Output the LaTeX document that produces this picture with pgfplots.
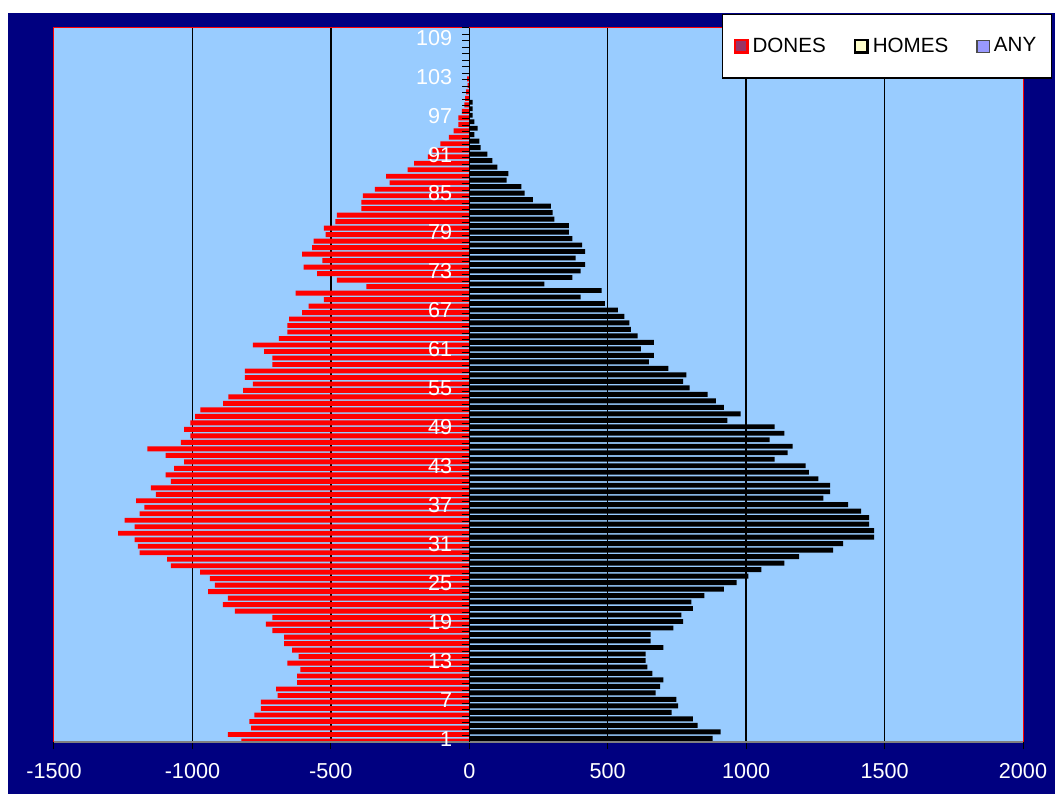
\documentclass[border=0pt]{standalone}
\usepackage{fontspec}
\setmainfont{Liberation Sans}
\usepackage{pgfplots}
\pgfplotsset{compat=1.18}
\definecolor{navy}{HTML}{000080}
\definecolor{plotbg}{HTML}{99CCFF}
\definecolor{legdones}{HTML}{993366}
\definecolor{leghomes}{HTML}{FFFFCC}
\definecolor{legany}{HTML}{9999FF}
\begin{document}
\begin{tikzpicture}
\path[use as bounding box, fill=white] (-27pt,-26pt) rectangle (500.5pt,371pt);
\fill[navy] (-23pt,-26pt) rectangle (500.5pt,364.5pt);
\begin{axis}[
  axis on top,
  at={(0,0)}, anchor=south west,
  scale only axis, width=484.5pt, height=357pt,
  xmin=-1500, xmax=2000, ymin=0.5, ymax=110.5,
  axis x line=bottom, axis y line=center,
  axis line style={-},
  x axis line style={draw=gray, line width=0.6pt},
  y axis line style={draw=black, line width=0.75pt},
  axis background/.style={fill=plotbg, draw=red, line width=0.5pt},
  tick align=outside,
  major tick length=3.5pt,
  tick style={black, line width=0.5pt},
  xtick={-1500,-1000,-500,0,500,1000,1500,2000},
  xticklabels={-1500,-1000,-500,0,500,1000,1500,2000},
  xticklabel style={text=white, font=\fontsize{10.8}{12}\selectfont, yshift=-3.5pt},
  hide obscured x ticks=false,
  hide obscured y ticks=false,
  ytick={0.5,1.5,...,110.5},
  yticklabels={},
  extra y ticks={1,7,13,19,25,31,37,43,49,55,61,67,73,79,85,91,97,103,109},
  extra y tick labels={1,7,13,19,25,31,37,43,49,55,61,67,73,79,85,91,97,103,109},
  extra y tick style={major tick length=0pt, yticklabel style={text=white, font=\fontsize{10.8}{12}\selectfont, xshift=-5pt}},
  legend style={at={(1.0299,1.0196)}, anchor=north east, draw=black, line width=0.65pt, fill=white,
    inner xsep=5.5pt, inner ysep=9.5pt, font=\fontsize{10.3}{12}\selectfont,
    /tikz/every even column/.append style={column sep=12pt}},
  legend columns=3,
]
\draw[black, line width=0.75pt] (axis cs:-1000,0.5) -- (axis cs:-1000,110.5)
  (axis cs:-500,0.5) -- (axis cs:-500,110.5)
  (axis cs:500,0.5) -- (axis cs:500,110.5)
  (axis cs:1000,0.5) -- (axis cs:1000,110.5)
  (axis cs:1500,0.5) -- (axis cs:1500,110.5);
\addplot[xbar, bar width=2.45pt, bar shift=-1.1pt, fill=red, draw=none, forget plot] coordinates {
(-823,1) (-872,2) (-788,3) (-794,4) (-776,5) (-753,6) (-753,7) (-692,8) (-698,9) (-622,10)
(-622,11) (-610,12) (-657,13) (-616,14) (-640,15) (-669,16) (-669,17) (-711,18) (-735,19) (-711,20)
(-847,21) (-890,22) (-872,23) (-943,24) (-919,25) (-937,26) (-972,27) (-1078,28) (-1091,29) (-1191,30)
(-1197,31) (-1209,32) (-1268,33) (-1209,34) (-1245,35) (-1191,36) (-1174,37) (-1203,38) (-1132,39) (-1150,40)
(-1078,41) (-1097,42) (-1066,43) (-1030,44) (-1097,45) (-1163,46) (-1042,47) (-1007,48) (-1030,49) (-1007,50)
(-990,51) (-971,52) (-889,53) (-870,54) (-817,55) (-782,56) (-811,57) (-811,58) (-711,59) (-711,60)
(-741,61) (-782,62) (-688,63) (-657,64) (-657,65) (-651,66) (-604,67) (-580,68) (-525,69) (-627,70)
(-372,71) (-478,72) (-550,73) (-598,74) (-531,75) (-604,76) (-568,77) (-562,78) (-519,79) (-525,80)
(-484,81) (-478,82) (-390,83) (-390,84) (-384,85) (-341,86) (-288,87) (-300,88) (-223,89) (-199,90)
(-150,91) (-133,92) (-104,93) (-74,94) (-57,95) (-39,96) (-39,97) (-27,98) (-18,99) (-15,100)
(-11,101) (-6,102) (-8,103)
};
\addplot[xbar, bar width=2.45pt, bar shift=0.2pt, fill=black, draw=none, forget plot] coordinates {
(879,1) (908,2) (825,3) (808,4) (731,5) (754,6) (748,7) (673,8) (689,9) (701,10)
(661,11) (643,12) (637,13) (637,14) (701,15) (655,16) (655,17) (737,18) (772,19) (766,20)
(808,21) (802,22) (849,23) (920,24) (966,25) (1008,26) (1055,27) (1138,28) (1191,29) (1314,30)
(1350,31) (1462,32) (1462,33) (1444,34) (1444,35) (1415,36) (1368,37) (1279,38) (1303,39) (1303,40)
(1261,41) (1227,42) (1215,43) (1103,44) (1150,45) (1168,46) (1085,47) (1138,48) (1103,49) (932,50)
(980,51) (920,52) (891,53) (861,54) (796,55) (772,56) (784,57) (719,58) (649,59) (667,60)
(620,61) (667,62) (608,63) (584,64) (578,65) (560,66) (537,67) (490,68) (402,69) (478,70)
(271,71) (372,72) (402,73) (418,74) (384,75) (418,76) (408,77) (372,78) (360,79) (360,80)
(307,81) (301,82) (295,83) (230,84) (200,85) (188,86) (135,87) (141,88) (101,89) (83,90)
(65,91) (41,92) (36,93) (18,94) (30,95) (18,96) (12,97) (12,98) (12,99)
};
\addlegendimage{legend image code/.code={\draw[red, line width=1.3pt, fill=legdones] (0.65pt,-3.1pt) rectangle (6.85pt,3.1pt);}}
\addlegendimage{legend image code/.code={\draw[black, line width=1.3pt, fill=leghomes] (0.65pt,-3.1pt) rectangle (6.85pt,3.1pt);}}
\addlegendimage{legend image code/.code={\draw[black!70, line width=0.6pt, fill=legany] (0.65pt,-3.1pt) rectangle (6.85pt,3.1pt);}}
\legend{DONES,HOMES,ANY}
\end{axis}
\end{tikzpicture}
\end{document}
